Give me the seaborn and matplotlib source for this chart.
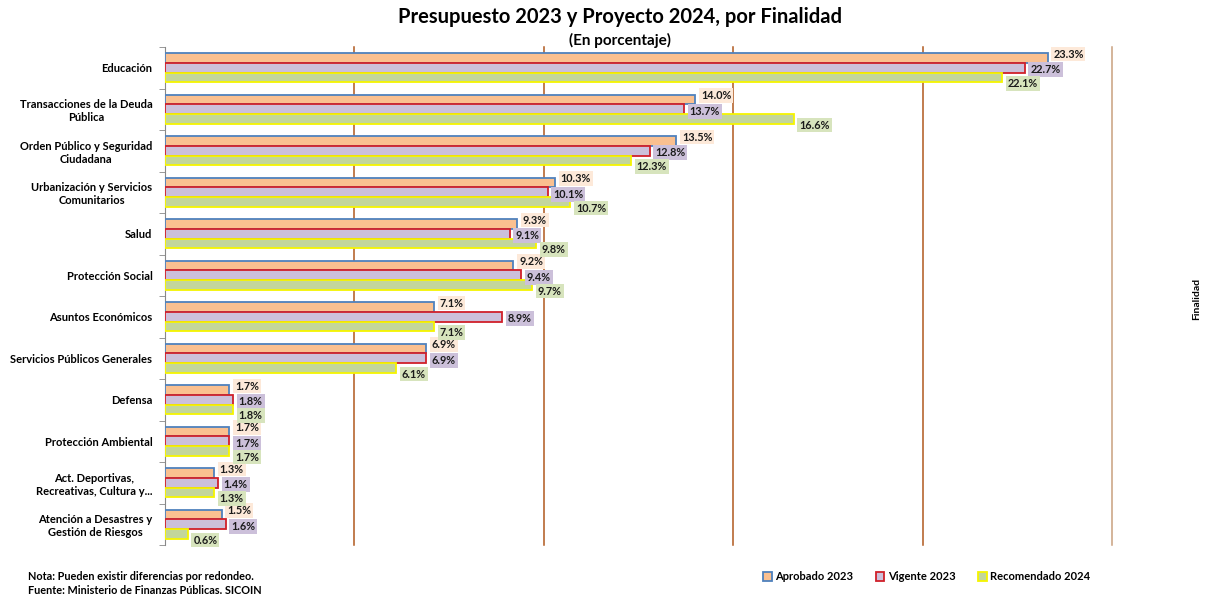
import matplotlib
matplotlib.use("Agg")
import matplotlib.pyplot as plt
from matplotlib.patches import Patch
import numpy as np
import pandas as pd
import seaborn as sns

categorias = [
    "Educación",
    "Transacciones de la Deuda\nPública",
    "Orden Público y Seguridad\nCiudadana",
    "Urbanización y Servicios\nComunitarios",
    "Salud",
    "Protección Social",
    "Asuntos Económicos",
    "Servicios Públicos Generales",
    "Defensa",
    "Protección Ambiental",
    "Act. Deportivas,\nRecreativas, Cultura y...",
    "Atención a Desastres y\nGestión de Riesgos",
]
series = ["Aprobado 2023", "Vigente 2023", "Recomendado 2024"]
aprobado_2023 = [23.3, 14.0, 13.5, 10.3, 9.3, 9.2, 7.1, 6.9, 1.7, 1.7, 1.3, 1.5]
vigente_2023 = [22.7, 13.7, 12.8, 10.1, 9.1, 9.4, 8.9, 6.9, 1.8, 1.7, 1.4, 1.6]
recomendado_2024 = [22.1, 16.6, 12.3, 10.7, 9.8, 9.7, 7.1, 6.1, 1.8, 1.7, 1.3, 0.6]

relleno = ["#FAC090", "#CCC0DA", "#C3D69B"]
borde = ["#4F81BD", "#D0202A", "#F5F500"]
fondo_etiqueta = ["#FDE9D9", "#CCC0DA", "#D7E4BD"]

df = pd.DataFrame({
    "Finalidad": categorias * 3,
    "Serie": np.repeat(series, len(categorias)),
    "Valor": aprobado_2023 + vigente_2023 + recomendado_2024,
})

plt.rcParams["font.family"] = ["Lato", "DejaVu Sans"]
plt.rcParams["font.weight"] = "bold"

fig = plt.figure(figsize=(12.08, 5.97), dpi=100)
ax = fig.add_axes([165 / 1208, 1 - 545 / 597, (1112 - 165) / 1208, (545 - 47) / 597])

sns.barplot(data=df, y="Finalidad", x="Valor", hue="Serie", order=categorias,
            hue_order=series, palette=relleno, orient="h", width=0.69,
            saturation=1, legend=False, ax=ax, zorder=3)

# vertical shift of each series' label, in points (positive = up)
offsets = [3, -1.5, -4.5]
anotaciones = [[] for _ in categorias]
for i, cont in enumerate(ax.containers):
    for bar in cont:
        bar.set_edgecolor(borde[i])
        bar.set_linewidth(1.3)
    for k, (bar, v) in enumerate(zip(cont, cont.datavalues)):
        a = ax.annotate(f"{v:.1f}%", (bar.get_width(), bar.get_y() + bar.get_height() / 2),
                        xytext=(4, offsets[i]), textcoords="offset points",
                        ha="left", va="center", fontsize=7.8, fontweight="bold",
                        color="#1a1a1a", zorder=5,
                        bbox=dict(boxstyle="square,pad=0.18", fc=fondo_etiqueta[i], ec="none"))
        anotaciones[k].append(a)

ax.set_xlim(0, 25)
for g in [5, 10, 15, 20, 25]:
    ax.axvline(g, color="#B0581E" if g < 25 else "#C9A07E", lw=1.1, zorder=1, clip_on=False)

ax.set_xlabel("")
ax.set_ylabel("")
ax.set_xticks([])
ax.tick_params(axis="y", which="major", length=0, labelsize=8, pad=9)
ax.set_yticks(np.arange(-0.5, len(categorias), 1), minor=True)
ax.tick_params(axis="y", which="minor", length=4, color="#888888", direction="out")
for lab in ax.get_yticklabels():
    lab.set_fontweight("bold")
    lab.set_multialignment("center")
for s in ["top", "right", "bottom"]:
    ax.spines[s].set_visible(False)
ax.spines["left"].set_color("#888888")

# push labels right when they collide with an already placed label
fig.canvas.draw()
renderer = fig.canvas.get_renderer()
colocadas = []
for grupo in anotaciones:
    for a in grupo:
        for _ in range(5):
            bb = a.get_bbox_patch().get_window_extent(renderer)
            choque = None
            for p in colocadas:
                if bb.x0 < p.x1 and bb.x1 > p.x0 and bb.y0 < p.y1 - 3 and bb.y1 > p.y0 + 3:
                    choque = p
                    break
            if choque is None:
                break
            dx = (choque.x1 - bb.x0 + 2) * 72 / fig.dpi
            x, y = a.xyann
            a.xyann = (x + dx, y)
            fig.canvas.draw()
        colocadas.append(a.get_bbox_patch().get_window_extent(renderer))

fig.text(0.513, 0.971, "Presupuesto 2023 y Proyecto 2024, por Finalidad",
         ha="center", va="center", fontsize=14.5, fontweight="bold")
fig.text(0.513, 0.932, "(En porcentaje)", ha="center", va="center",
         fontsize=11, fontweight="bold")
fig.text(1197 / 1208, 0.5, "Finalidad", rotation=90, ha="center", va="center",
         fontsize=7.5, fontweight="bold")

fig.text(28 / 1208, 1 - 577 / 597, "Nota: Pueden existir diferencias por redondeo.",
         ha="left", va="center", fontsize=7.8, fontweight="bold")
fig.text(28 / 1208, 1 - 590 / 597, "Fuente: Ministerio de Finanzas Públicas. SICOIN",
         ha="left", va="center", fontsize=7.8, fontweight="bold")

handles = [Patch(facecolor=relleno[i], edgecolor=borde[i], linewidth=1.3, label=series[i])
           for i in range(3)]
fig.legend(handles=handles, loc="center right", bbox_to_anchor=(1100 / 1208, 1 - 577 / 597),
           ncol=3, frameon=False, handlelength=0.8, handleheight=0.8,
           handletextpad=0.3, columnspacing=2.0, prop={"weight": "bold", "size": 8})

fig.savefig("out.png", dpi=100)
